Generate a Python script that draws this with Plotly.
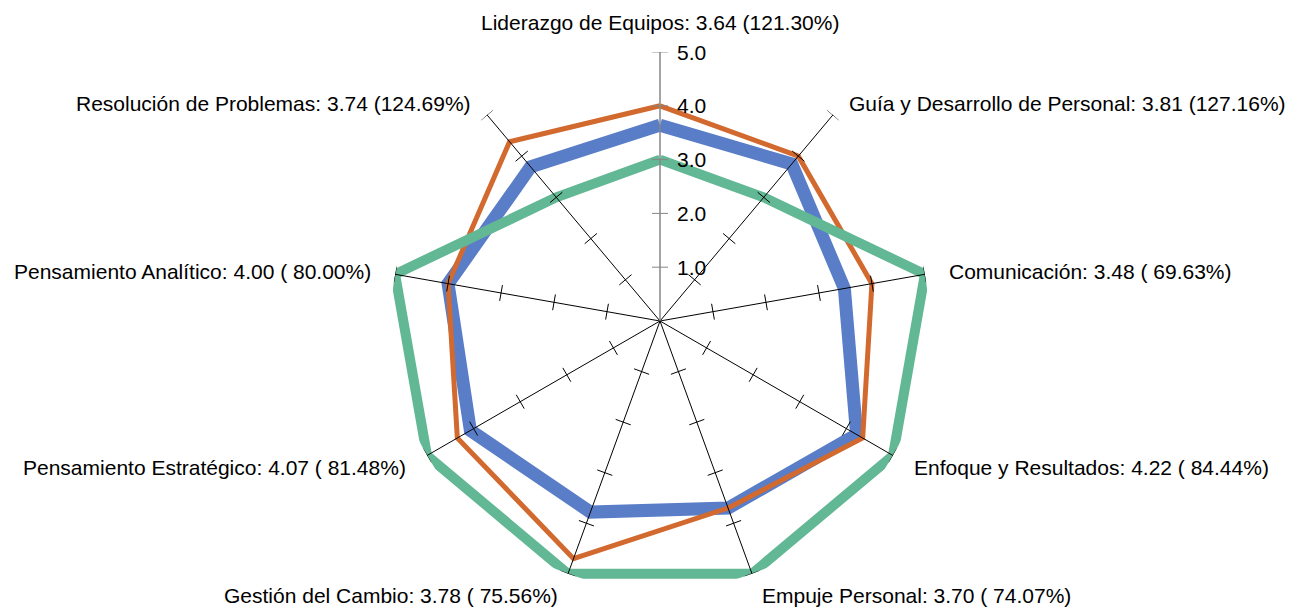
import math
import plotly.graph_objects as go

# ---- data ----
categories = [
    "Liderazgo de Equipos: 3.64 (121.30%)",
    "Guía y Desarrollo de Personal: 3.81 (127.16%)",
    "Comunicación: 3.48 ( 69.63%)",
    "Enfoque y Resultados: 4.22 ( 84.44%)",
    "Empuje Personal: 3.70 ( 74.07%)",
    "Gestión del Cambio: 3.78 ( 75.56%)",
    "Pensamiento Estratégico: 4.07 ( 81.48%)",
    "Pensamiento Analítico: 4.00 ( 80.00%)",
    "Resolución de Problemas: 3.74 (124.69%)",
]
score = [3.64, 3.81, 3.48, 4.22, 3.70, 3.78, 4.07, 4.00, 3.74]
other = [4.0, 4.0, 4.0, 4.35, 3.7, 4.7, 4.35, 4.0, 4.35]
target = [3, 3, 5, 5, 5, 5, 5, 5, 3]
radial_ticks = [1, 2, 3, 4, 5]
radial_ticktext = ["1.0", "2.0", "3.0", "4.0", "5.0"]
r_max = 5

FONT = "Liberation Sans, Arial, sans-serif"
FS = 21
n = len(categories)
angles = [i * 360 / n for i in range(n)]

def closed(v):
    return list(v) + [v[0]]

fig = go.Figure()

series = [
    ("Resultado", score, "#5A7DC8", 13),
    ("Referencia", other, "#D2692E", 5),
    ("Meta", target, "#62B894", 10),
]
for name, vals, color, w in series:
    fig.add_trace(go.Scatterpolar(
        r=closed(vals), theta=closed(angles), mode="lines", name=name,
        line=dict(color=color, width=w), showlegend=False,
    ))

# spokes (drawn above data, as in the reference); top spoke is the radial axis line
sr, st = [], []
for a in angles[1:]:
    sr += [0, r_max, None]
    st += [a, a, None]
fig.add_trace(go.Scatterpolar(r=sr, theta=st, mode="lines",
                              line=dict(color="black", width=1),
                              hoverinfo="skip", showlegend=False))

# cross tick marks on each spoke
R_PX = 269.0
h = 8.0 / (R_PX / r_max)
def tick_trace(angle_list, color):
    tr, tt = [], []
    for a in angle_list:
        for k in radial_ticks:
            rr = math.hypot(k, h)
            d = math.degrees(math.atan2(h, k))
            tr += [rr, rr, None]
            tt += [a - d, a + d, None]
    return go.Scatterpolar(r=tr, theta=tt, mode="lines",
                           line=dict(color=color, width=1),
                           hoverinfo="skip", showlegend=False)

fig.add_trace(tick_trace(angles[1:], "black"))
fig.add_trace(tick_trace(angles[:1], "#868686"))

# page offset (body margin) compensation
W, H = 1306, 609
OFF = 8
cx, cy = 660 - OFF, 321 - OFF

def px(x, y):
    return x / W, 1 - y / H

annotations = []
for a, lab in zip(angles, categories):
    s, c = math.sin(math.radians(a)), math.cos(math.radians(a))
    ex, ey = cx + R_PX * s, cy - R_PX * c
    if c > 0.9:
        lx, ly = ex, ey - 16
        xa, ya = "center", "bottom"
    else:
        d = 22
        lx = ex + d * s
        ly = ey - d * c * (0.7 if c > 0 else 1.05)
        xa = "left" if s > 0.1 else ("right" if s < -0.1 else "center")
        ya = "middle"
    x, y = px(lx, ly)
    annotations.append(dict(x=x, y=y, xref="paper", yref="paper", text=lab,
                            showarrow=False, xanchor=xa, yanchor=ya,
                            font=dict(family=FONT, size=FS, color="black")))
for k, t in zip(radial_ticks, radial_ticktext):
    x, y = px(cx + 15, cy - k * R_PX / r_max)
    annotations.append(dict(x=x, y=y, xref="paper", yref="paper", text=t,
                            showarrow=False, xanchor="left", yanchor="middle",
                            font=dict(family=FONT, size=FS, color="black")))

fig.update_layout(
    width=W, height=H,
    margin=dict(l=0, r=0, t=0, b=0),
    paper_bgcolor="white",
    font=dict(family=FONT, size=FS, color="black"),
    annotations=annotations,
    polar=dict(
        domain=dict(x=[(cx - R_PX) / W, (cx + R_PX) / W],
                    y=[(H - cy - R_PX) / H, (H - cy + R_PX) / H]),
        bgcolor="white",
        gridshape="linear",
        radialaxis=dict(
            range=[0, r_max], angle=90,
            showticklabels=False, ticks="",
            showgrid=False, showline=True, linecolor="#868686", linewidth=1.5,
            layer="above traces",
        ),
        angularaxis=dict(
            tickmode="array", tickvals=angles,
            direction="clockwise", rotation=90,
            showticklabels=False,
            showgrid=False, showline=False, ticks="",
        ),
    ),
)

fig.write_html("out.html")
